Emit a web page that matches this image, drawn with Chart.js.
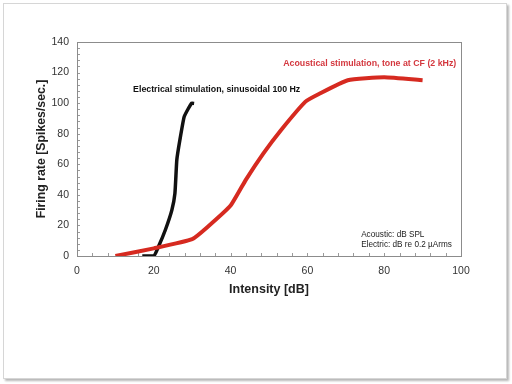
<!DOCTYPE html>
<html>
<head>
<meta charset="utf-8">
<script src="https://cdn.jsdelivr.net/npm/chart.js@4/dist/chart.umd.min.js"></script>
<style>
  html, body { margin: 0; padding: 0; background: #fff; }
  #frame { position: absolute; left: 3px; top: 3px; width: 502px; height: 374px;
           border: 1px solid #d6d6d6; box-shadow: 2px 2px 2px #b8b8b8; background: #fff; }
  #wrap { position: absolute; left: 0; top: 0; width: 512px; height: 384px; }
</style>
</head>
<body>
<div id="frame"></div>
<div id="wrap"><canvas id="c" width="512" height="384"></canvas></div>
<script>
// ---- data ----
const electricalX = [17, 20, 21.2, 23, 24.7, 25.5, 26, 26.8, 27.9, 29, 29.9, 30.5];
const electricalY = [0, 0, 6, 17, 30, 41, 63, 76, 91, 96.5, 100, 99.8];
const acousticX = [10, 20, 30, 34, 40, 44, 48.5, 53, 59.5, 63, 70.5, 80, 90];
const acousticY = [0, 5, 11, 19, 33, 50, 67, 82, 101, 106, 115, 117, 115];
const xTicks = [0, 20, 40, 60, 80, 100];
const yTicks = [0, 20, 40, 60, 80, 100, 120, 140];
const labelElectrical = 'Electrical stimulation, sinusoidal 100 Hz';
const labelAcoustic = 'Acoustical stimulation, tone at CF (2 kHz)';
const noteLines = ['Acoustic: dB SPL', 'Electric: dB re 0.2 \u00b5Arms'];
const xTitle = 'Intensity [dB]';
const yTitle = 'Firing rate [Spikes/sec.]';

const FONT = "'Liberation Sans', Arial, sans-serif";
const toPts = (xs, ys) => xs.map((x, i) => ({ x, y: ys[i] }));

const decor = {
  id: 'decor',
  beforeDatasetsDraw(chart) {
    const { ctx, chartArea: a, scales: { x, y } } = chart;
    ctx.save();
    ctx.strokeStyle = '#9a9a9a';
    ctx.lineWidth = 1;
    // minor ticks inside plot
    ctx.beginPath();
    for (let v = x.min; v <= x.max; v += 4) {
      const px = Math.round(x.getPixelForValue(v)) + 0.5;
      ctx.moveTo(px, a.bottom); ctx.lineTo(px, a.bottom - 3);
    }
    for (let v = y.min; v <= y.max; v += 4) {
      const py = Math.round(y.getPixelForValue(v)) + 0.5;
      ctx.moveTo(a.left, py); ctx.lineTo(a.left + 3, py);
    }
    ctx.stroke();
    // plot border
    ctx.strokeStyle = '#8c8c8c';
    ctx.strokeRect(Math.round(a.left) + 0.5, Math.round(a.top) + 0.5,
                   Math.round(a.right - a.left), Math.round(a.bottom - a.top));
    ctx.restore();
  },
  afterDatasetsDraw(chart) {
    const { ctx, scales: { x, y } } = chart;
    ctx.save();
    ctx.textBaseline = 'middle';
    ctx.textAlign = 'left';
    ctx.font = 'bold 8.8px ' + FONT;
    ctx.fillStyle = '#111';
    ctx.fillText(labelElectrical, x.getPixelForValue(14.6), y.getPixelForValue(109));
    ctx.fillStyle = '#d4383f';
    ctx.fillText(labelAcoustic, x.getPixelForValue(53.7), y.getPixelForValue(126));
    ctx.font = '8.2px ' + FONT;
    ctx.fillStyle = '#222';
    ctx.fillText(noteLines[0], x.getPixelForValue(74.0), y.getPixelForValue(13.7));
    ctx.fillText(noteLines[1], x.getPixelForValue(74.0), y.getPixelForValue(7.2));
    ctx.restore();
  }
};

new Chart(document.getElementById('c'), {
  type: 'line',
  data: {
    datasets: [
      { label: 'Acoustical', data: toPts(acousticX, acousticY), borderColor: '#d62a20',
        borderWidth: 4, pointRadius: 0, tension: 0.15, borderCapStyle: 'butt', borderJoinStyle: 'round' },
      { label: 'Electrical', data: toPts(electricalX, electricalY), borderColor: '#111111',
        borderWidth: 3.5, pointRadius: 0, tension: 0.15, borderCapStyle: 'butt', borderJoinStyle: 'round' }
    ]
  },
  options: {
    responsive: false,
    animation: false,
    events: [],
    layout: { padding: { left: 0, right: 51, top: 42, bottom: 0 } },
    plugins: { legend: { display: false }, tooltip: { enabled: false } },
    scales: {
      x: {
        type: 'linear', min: 0, max: 100,
        afterBuildTicks: s => { s.ticks = xTicks.map(v => ({ value: v })); },
        afterFit: s => { s.height = 128; },
        grid: { display: false, drawTicks: false },
        border: { display: false },
        ticks: { padding: 9, color: '#333', font: { family: FONT, size: 10.5 } },
        title: { display: true, text: xTitle, color: '#222',
                 font: { family: FONT, size: 12.5, weight: 'bold' }, padding: { top: 0, bottom: 87 } }
      },
      y: {
        type: 'linear', min: 0, max: 140,
        afterBuildTicks: s => { s.ticks = yTicks.map(v => ({ value: v })); },
        afterFit: s => { s.width = 77; },
        grid: { display: false, drawTicks: false },
        border: { display: false },
        ticks: { padding: 8, color: '#333', font: { family: FONT, size: 10.5 } },
        title: { display: true, text: yTitle, color: '#222',
                 font: { family: FONT, size: 12.3, weight: 'bold' }, padding: { top: 34, bottom: 0 } }
      }
    }
  },
  plugins: [decor]
});
</script>
</body>
</html>
